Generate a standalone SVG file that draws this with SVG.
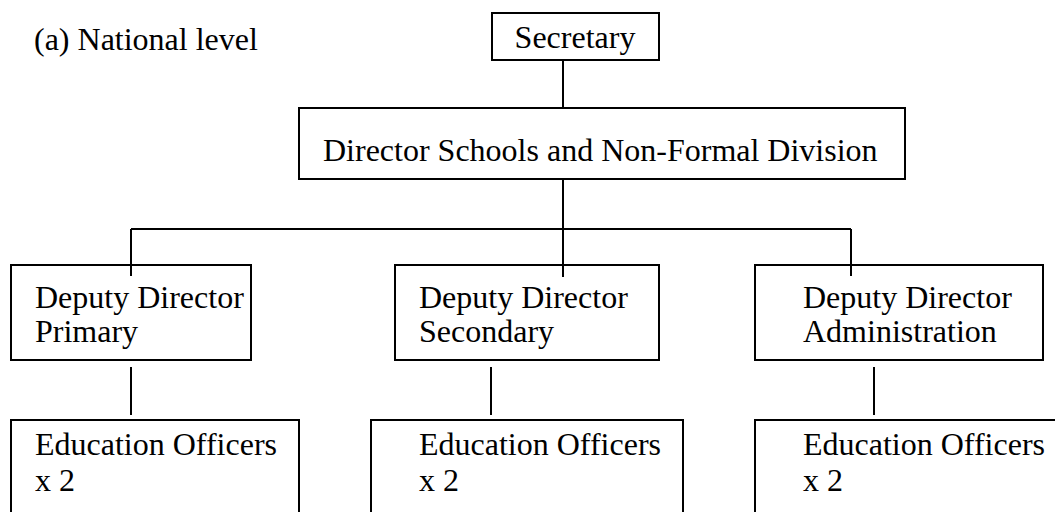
<svg xmlns="http://www.w3.org/2000/svg" width="1055" height="512" viewBox="0 0 1055 512">
<style>
.box{fill:#fff;stroke:#000;stroke-width:2}
.t{font-family:"Liberation Serif","Times New Roman",serif;font-size:32px;fill:#000}
.c{stroke:#000;stroke-width:2;fill:none}
</style>
<rect width="1055" height="512" fill="#fff"/>
<text class="t" x="34" y="50">(a) National level</text>
<g id="n-secretary"><rect class="box" x="492" y="13" width="167" height="47"/><text class="t" x="575" y="48" text-anchor="middle">Secretary</text></g>
<g id="n-director"><rect class="box" x="299" y="108" width="606" height="71"/><text class="t" x="323" y="161">Director Schools and Non-Formal Division</text></g>
<g id="n-dd-primary"><rect class="box" x="11" y="265" width="240" height="95"/><text class="t" x="35" y="308">Deputy Director</text><text class="t" x="35" y="342">Primary</text></g>
<g id="n-dd-secondary"><rect class="box" x="395" y="265" width="264" height="95"/><text class="t" x="419" y="308">Deputy Director</text><text class="t" x="419" y="342">Secondary</text></g>
<g id="n-dd-admin"><rect class="box" x="755" y="265" width="288" height="95"/><text class="t" x="803" y="308">Deputy Director</text><text class="t" x="803" y="342">Administration</text></g>
<g id="n-eo1"><rect class="box" x="11" y="420" width="288" height="110"/><text class="t" x="35" y="455">Education Officers</text><text class="t" x="35" y="491">x 2</text></g>
<g id="n-eo2"><rect class="box" x="371" y="420" width="312" height="110"/><text class="t" x="419" y="455">Education Officers</text><text class="t" x="419" y="491">x 2</text></g>
<g id="n-eo3"><rect class="box" x="755" y="420" width="310" height="110"/><text class="t" x="803" y="455">Education Officers</text><text class="t" x="803" y="491">x 2</text></g>
<g id="connectors">
<path class="c" d="M563 60V108M563 179V229M131 229H851M131 229V276M563 229V277M851 229V276M131 367V415M491 367V415M874 367V415"/>
</g>
</svg>
